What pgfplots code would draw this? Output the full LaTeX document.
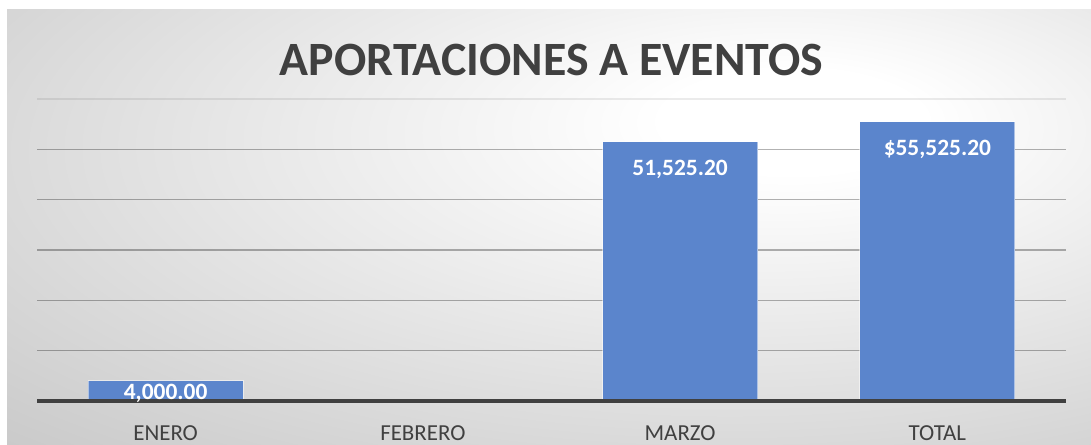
\documentclass[border=0pt]{standalone}
\usepackage{fontspec}
\setmainfont{Carlito}
\usepackage{pgfplots}
\pgfplotsset{compat=1.18}
\definecolor{barc}{RGB}{91,133,204}
\definecolor{txt}{RGB}{64,64,64}
\definecolor{bgg}{RGB}{198,198,198}
\pgfdeclareradialshading{bgshade}{\pgfpoint{12bp}{13bp}}{color(0bp)=(white); color(6bp)=(white); color(48bp)=(bgg); color(100bp)=(bgg)}
\begin{document}
\begin{tikzpicture}
\path[use as bounding box] (0,0) rectangle (1091bp,445bp);
\fill[white] (0,0) rectangle (1091bp,445bp);
\shade[shading=bgshade] (7bp,0) rectangle (1091bp,435bp);
\node[anchor=base, font=\fontsize{48}{50}\selectfont\bfseries, text=txt, inner sep=0pt] at (551.5bp,369bp) {APORTACIONES A EVENTOS};
\begin{axis}[
  at={(37bp,44bp)}, anchor=south west,
  scale only axis, width=1029bp, height=302bp,
  xmin=-0.5, xmax=3.5, ymin=0, ymax=60000,
  ybar, bar width=155bp, bar shift=0pt,
  scaled y ticks=false,
  ytick={0,10000,20000,30000,40000,50000},
  yticklabels={},
  extra y ticks={60000},
  extra y tick labels={},
  extra y tick style={grid style={draw=black, draw opacity=0.08, line width=1.3bp}},
  ymajorgrids,
  grid style={draw=black, draw opacity=0.3, line width=1.3bp},
  axis line style={draw=none},
  major tick length=0pt,
  xtick={0,1,2,3},
  xticklabels={ENERO,FEBRERO,MARZO,TOTAL},
  xticklabel style={font=\fontsize{23}{26}\selectfont, text=txt, anchor=base, yshift=-39bp},
  clip=false,
]
\addplot[fill=barc, draw=white, draw opacity=0.5, line width=0.8bp,
  nodes near coords={4,000.00},
  nodes near coords style={anchor=center, yshift=-13bp, text=white, font=\fontsize{23.5}{26}\selectfont\bfseries}]
  coordinates {(0,4000)};
\addplot[fill=barc, draw=none] coordinates {(1,0)};
\addplot[fill=barc, draw=white, draw opacity=0.5, line width=0.8bp,
  nodes near coords={51,525.20},
  nodes near coords style={anchor=center, yshift=-28bp, text=white, font=\fontsize{23.5}{26}\selectfont\bfseries}]
  coordinates {(2,51525.2)};
\addplot[fill=barc, draw=white, draw opacity=0.5, line width=0.8bp,
  nodes near coords={\$55,525.20},
  nodes near coords style={anchor=center, yshift=-28bp, text=white, font=\fontsize{23.5}{26}\selectfont\bfseries}]
  coordinates {(3,55525.2)};
\draw[line width=4bp, txt] (rel axis cs:0,0) -- (rel axis cs:1,0);
\end{axis}
\end{tikzpicture}
\end{document}
